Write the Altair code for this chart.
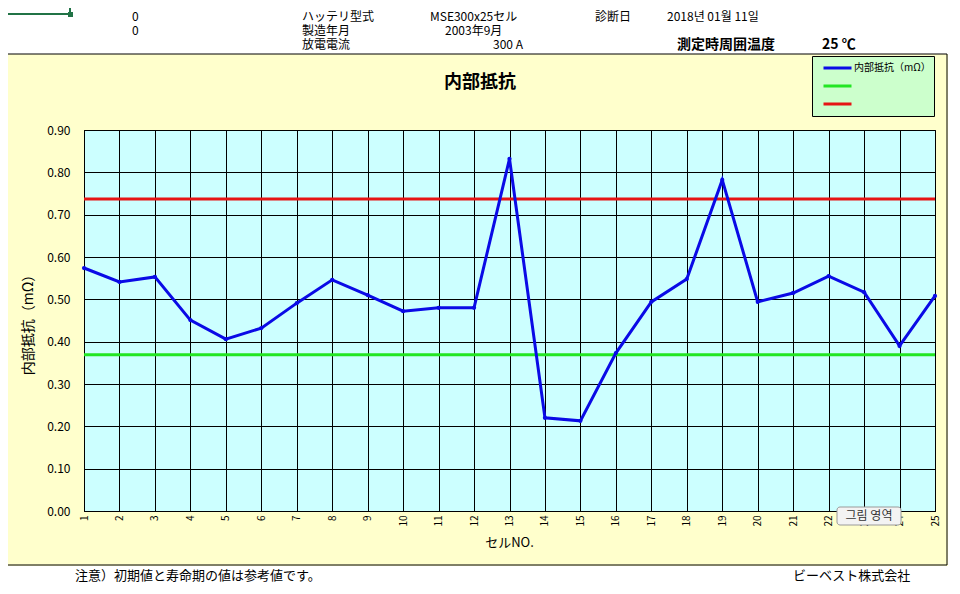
import altair as alt
import pandas as pd

# ---------------- data ----------------
cells = list(range(1, 26))
resistance = [0.574, 0.541, 0.553, 0.451, 0.406, 0.432, 0.491, 0.546, 0.510, 0.472,
              0.480, 0.480, 0.832, 0.220, 0.213, 0.373, 0.494, 0.548, 0.782, 0.494,
              0.515, 0.555, 0.517, 0.390, 0.508]
series_names = ["内部抵抗（mΩ）", "初期値", "寿命期"]
series_colors = ["#0A0AE6", "#22E622", "#E61414"]
limit_values = [0.369, 0.737]
y_ticks = [0.0, 0.1, 0.2, 0.3, 0.4, 0.5, 0.6, 0.7, 0.8, 0.9]

header_row1 = ["0", "ハッテリ型式", "MSE300x25セル", "診断日", "2018년 01월 11일"]
header_row2 = ["0", "製造年月", "2003年9月"]
header_row3 = ["放電電流", "300 A"]
header_bold = ["測定時周囲温度", "25 ℃"]
chart_title = "内部抵抗"
x_title = "セルNO."
footer_left = "注意）初期値と寿命期の値は参考値です。"
footer_right = "ビーベスト株式会社"
tooltip_text = "그림 영역"

# ---------------- layout helpers ----------------
W, H = 851, 381
OX, OY = 84, 130   # page position of the plot area's top-left corner
FONT = "Noto Sans CJK JP"
blank = pd.DataFrame({"k": [0]})


def px(x):
    return x - OX


def py(y):
    return y - OY


def label(text, x, y, size=12, bold=False, align="left", font=FONT, color="black"):
    return alt.Chart(blank).mark_text(
        text=text, align=align, baseline="middle", fontSize=size,
        fontWeight="bold" if bold else "normal", font=font, color=color
    ).encode(x=alt.value(px(x)), y=alt.value(py(y)))


def box(x1, y1, x2, y2, fill="white", stroke=None, opacity=1, radius=0, sw=1):
    kw = dict(fill=fill, fillOpacity=opacity, cornerRadius=radius)
    if stroke:
        kw.update(stroke=stroke, strokeWidth=sw)
    else:
        kw.update(strokeWidth=0)
    return alt.Chart(blank).mark_rect(**kw).encode(
        x=alt.value(px(x1)), x2=alt.value(px(x2)),
        y=alt.value(py(y1)), y2=alt.value(py(y2)))


# ---------------- decoration ----------------
white_top = box(0, 0, 960, 54)
white_bottom = box(0, 566, 960, 600)
white_right = box(948, 0, 960, 600)
outline = box(2, 54, 947, 565, fill="#FFFFCC", stroke="black", opacity=0)

sel_h = alt.Chart(blank).mark_rule(color="#217346", strokeWidth=2).encode(
    x=alt.value(px(0)), x2=alt.value(px(70)), y=alt.value(py(14)))
sel_v = alt.Chart(blank).mark_rule(color="#217346", strokeWidth=2).encode(
    x=alt.value(px(70)), y=alt.value(py(0)), y2=alt.value(py(14)))
sel_sq = box(68, 12, 73, 17, fill="#217346")

R1, R2, R3 = 17, 31, 45
texts = [
    label(header_row1[0], 132, R1),
    label(header_row1[1], 302, R1),
    label(header_row1[2], 430, R1),
    label(header_row1[3], 595, R1),
    label(header_row1[4], 667, R1),
    label(header_row2[0], 132, R2),
    label(header_row2[1], 302, R2),
    label(header_row2[2], 445, R2),
    label(header_row3[0], 302, R3),
    label(header_row3[1], 493, R3),
    label(header_bold[0], 677, R3, size=14, bold=True),
    label(header_bold[1], 822, R3, size=14, bold=True),
    label(chart_title, 480, 83, size=18, bold=True, align="center"),
    label(footer_left, 75, 576, size=13),
    label(footer_right, 793, 576, size=13),
]

tip_box = box(837, 507, 901, 525, fill="#F3F3F3", stroke="#9A9A9A", radius=3)
tip_text = label(tooltip_text, 869, 516, size=12, align="center",
                 font="Noto Sans CJK KR", color="#333333")

legend_dot = alt.Chart(blank).mark_point(
    filled=True, size=20, color=series_colors[0], opacity=1
).encode(x=alt.value(px(836)), y=alt.value(py(66)))

# ---------------- data layers ----------------
color = alt.Color(
    "series:N",
    scale=alt.Scale(domain=series_names, range=series_colors),
    legend=alt.Legend(
        title=None, orient="none", legendX=728, legendY=-74,
        symbolType="stroke", symbolSize=784, symbolStrokeWidth=3,
        clipHeight=18, rowPadding=0, padding=3, symbolOffset=7,
        labelFontSize=10, labelFont=FONT, labelColor="black", labelOffset=1,
        fillColor="#CCFFCC", strokeColor="black", cornerRadius=0,
        labelExpr="datum.label == '内部抵抗（mΩ）' ? datum.label : ''",
    ),
)

x_enc = alt.X(
    "cell:Q",
    scale=alt.Scale(domain=[1, 25], nice=False, zero=False),
    axis=alt.Axis(
        values=cells, labelAngle=-90, labelFontSize=10, labelFont=FONT,
        labelColor="black", labelPadding=4, ticks=False, grid=True,
        gridColor="black", gridOpacity=1, domainColor="black",
        title=x_title, titleFont=FONT, titleFontSize=13, titleFontWeight="normal",
        titleColor="black", titleX=425, titleY=31, titleBaseline="middle",
    ),
)
y_enc = alt.Y(
    "value:Q",
    scale=alt.Scale(domain=[0, 0.9], nice=False),
    axis=alt.Axis(
        values=y_ticks, format=".2f", labelFontSize=12, labelFont=FONT,
        labelColor="black", labelPadding=14, ticks=False, grid=True,
        gridColor="black", gridOpacity=1, domainColor="black",
        title=series_names[0], titleFont=FONT, titleFontSize=14,
        titleFontWeight="normal", titleColor="black",
        titleX=-56, titleY=191, titleBaseline="middle",
    ),
)

main_df = pd.DataFrame({"cell": cells, "value": resistance, "series": series_names[0]})
limit_df = pd.DataFrame({"value": limit_values, "series": series_names[1:]})

rules = alt.Chart(limit_df).mark_rule(strokeWidth=3).encode(y=y_enc, color=color)
line = alt.Chart(main_df).mark_line(
    strokeWidth=3,
    point=alt.OverlayMarkDef(filled=True, size=18, color=series_colors[0]),
).encode(x=x_enc, y=y_enc, color=color)

chart = alt.layer(
    white_top, white_bottom, white_right, outline, sel_h, sel_v, sel_sq,
    *texts, rules, line, tip_box, tip_text, legend_dot,
).properties(
    width=W, height=H,
    padding={"left": 76, "top": 122, "right": 17, "bottom": 75},
    autosize=alt.AutoSizeParams(type="none"),
).configure(
    background="#FFFFCC",
).configure_view(
    fill="#CCFFFF", stroke="black", strokeWidth=1,
)

chart.save("out.html", embed_options={"renderer": "svg", "actions": False})
